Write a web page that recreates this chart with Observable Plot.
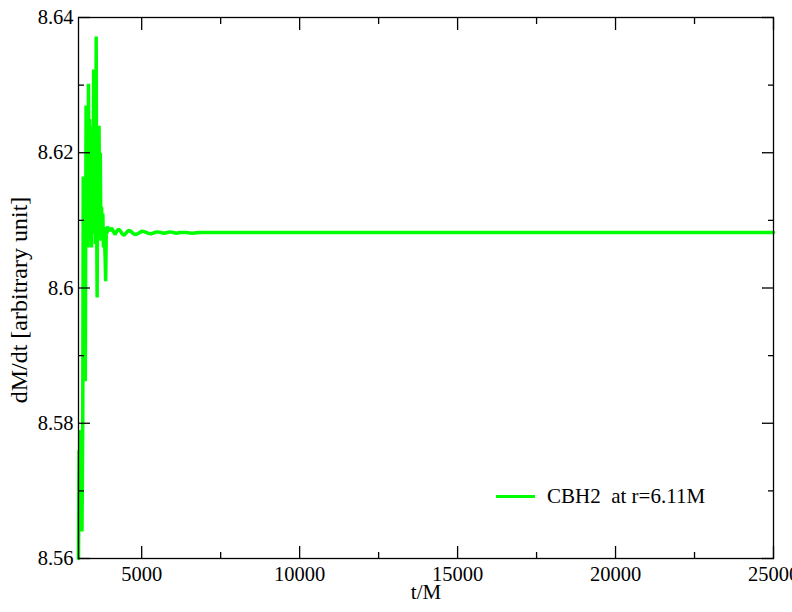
<!DOCTYPE html>
<html>
<head>
<meta charset="utf-8">
<script src="https://cdn.jsdelivr.net/npm/d3@7"></script>
<script src="https://cdn.jsdelivr.net/npm/@observablehq/plot@0.6"></script>
<style>
  body { margin: 0; background: #fff; }
  #chart { position: relative; width: 792px; height: 612px; }
  #chart svg, #chart svg text { font-family: "Liberation Serif", serif !important; }
  #legend { position: absolute; left: 496px; top: 484px; display: flex; align-items: center;
            font-family: "Liberation Serif", serif; font-size: 21px; color: #000; white-space: pre; }
  #legend .swatch { width: 39px; height: 3.5px; margin-right: 12px; }
</style>
</head>
<body>
<div id="chart"></div>
<script>
const seriesName = "CBH2  at r=6.11M";
const seriesColor = "#00ff00";
const xLabel = "t/M";
const yLabel = "dM/dt [arbitrary unit]";

const tValues = [
  3000, 3020, 3040, 3060, 3080, 3110, 3135, 3150, 3175, 3200,
  3215, 3240, 3260, 3280, 3300, 3315, 3335, 3350, 3370, 3395,
  3415, 3440, 3460, 3480, 3500, 3520, 3540, 3560, 3575, 3590,
  3610, 3630, 3650, 3670, 3690, 3710, 3730, 3750, 3770, 3790,
  3810, 3840, 3860, 3880, 3900, 3920, 3950, 3980, 4010, 4040,
  4080, 4120, 4160, 4200, 4260, 4320, 4380, 4440, 4500, 4580,
  4660, 4740, 4820, 4900, 5000, 5100, 5200, 5300, 5400, 5500,
  5600, 5700, 5800, 5900, 6000, 6100, 6200, 6400, 6600, 6800,
  7000, 25000
];
const dmdtValues = [
  8.5600, 8.5760, 8.5700, 8.5790, 8.5750, 8.5640, 8.5800, 8.6165, 8.5900, 8.6000,
  8.5862, 8.6270, 8.6100, 8.6270, 8.6060, 8.6302, 8.6100, 8.6250, 8.6070, 8.6200,
  8.6060, 8.6240, 8.6100, 8.6323, 8.6080, 8.6260, 8.6065, 8.6372, 8.6100, 8.5986,
  8.6230, 8.6100, 8.6240, 8.6080, 8.6200, 8.6070, 8.6120, 8.6080, 8.6110, 8.6060,
  8.6090, 8.6050, 8.6010, 8.6085, 8.6080, 8.6091, 8.6085, 8.6088, 8.6084, 8.6089,
  8.6086, 8.6082, 8.6079, 8.6083, 8.6087, 8.6085, 8.6080, 8.6078, 8.6081, 8.6085,
  8.6084, 8.6080, 8.6079, 8.6081, 8.6084, 8.6083, 8.6081, 8.6080, 8.6082, 8.6083,
  8.6082, 8.6081, 8.6082, 8.6083, 8.6082, 8.6081, 8.6082, 8.6082, 8.6081, 8.6082,
  8.6082, 8.6082
];

const xDomain = [3000, 25000];
const yDomain = [8.56, 8.64];
const xMajorTicks = [5000, 10000, 15000, 20000, 25000];
const xTickLabels = ["5000", "10000", "15000", "20000", "25000"];
const xMinorTicks = [7500, 12500, 17500, 22500];
const yMajorTicks = [8.56, 8.58, 8.6, 8.62, 8.64];
const yTickLabels = ["8.56", "8.58", "8.6", "8.62", "8.64"];
const yMinorTicks = [8.57, 8.59, 8.61, 8.63];

const font = "Liberation Serif, serif";
const data = tValues.map((t, i) => ({t, v: dmdtValues[i]}));
const blank = () => "";
const tickStyle = {stroke: "black", strokeWidth: 1.3, label: null, tickFormat: blank};

const chart = Plot.plot({
  width: 792,
  height: 612,
  marginLeft: 78,
  marginRight: 19,
  marginTop: 17,
  marginBottom: 54,
  style: {fontFamily: font, background: "#fff", color: "#000"},
  x: {domain: xDomain},
  y: {domain: yDomain},
  marks: [
    Plot.line(data, {x: "t", y: "v", stroke: seriesColor, strokeWidth: 3.5, strokeLinejoin: "bevel"}),
    Plot.frame({stroke: "black", strokeWidth: 1.3}),
    Plot.axisX(xMajorTicks, {anchor: "bottom", tickSize: -12, ...tickStyle}),
    Plot.axisX(xMinorTicks, {anchor: "bottom", tickSize: -6, ...tickStyle}),
    Plot.axisX(xMajorTicks, {anchor: "top", tickSize: -12, ...tickStyle}),
    Plot.axisX(xMinorTicks, {anchor: "top", tickSize: -6, ...tickStyle}),
    Plot.axisY(yMajorTicks, {anchor: "left", tickSize: -12, ...tickStyle}),
    Plot.axisY(yMinorTicks, {anchor: "left", tickSize: -6, ...tickStyle}),
    Plot.axisY(yMajorTicks, {anchor: "right", tickSize: -12, ...tickStyle}),
    Plot.axisY(yMinorTicks, {anchor: "right", tickSize: -6, ...tickStyle}),
    Plot.axisX(xMajorTicks, {anchor: "bottom", tickSize: 0, tickPadding: 8, fontSize: 20.5, fontFamily: font, fill: "black", label: null,
      tickFormat: d => xTickLabels[xMajorTicks.indexOf(d)]}),
    Plot.axisY(yMajorTicks, {anchor: "left", tickSize: 0, tickPadding: 5, fontSize: 20.5, fontFamily: font, fill: "black", label: null,
      tickFormat: d => yTickLabels[yMajorTicks.indexOf(d)]}),
    Plot.text([xLabel], {frameAnchor: "bottom", textAnchor: "middle", dy: 40, fontSize: 21, fontFamily: font, fill: "black"}),
    Plot.text([yLabel], {frameAnchor: "left", textAnchor: "middle", dx: -59, dy: 12, rotate: -90, fontSize: 24, fontFamily: font, fill: "black"})
  ]
});

const container = document.getElementById("chart");
container.appendChild(chart);
const legend = document.createElement("div");
legend.id = "legend";
const sw = document.createElement("div");
sw.className = "swatch";
sw.style.background = seriesColor;
const lab = document.createElement("span");
lab.textContent = seriesName;
legend.appendChild(sw);
legend.appendChild(lab);
container.appendChild(legend);
</script>
</body>
</html>
